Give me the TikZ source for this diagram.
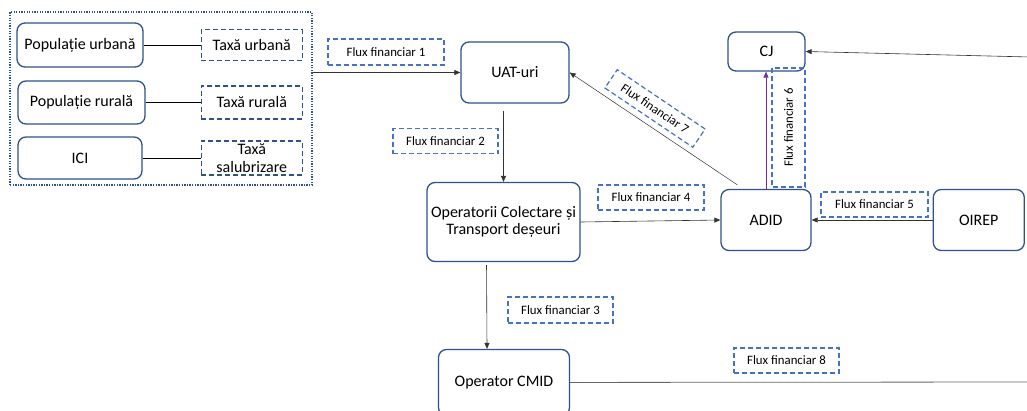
\documentclass[tikz,border=0pt]{standalone}
\usepackage{fontspec}
\setmainfont{Carlito}
\usetikzlibrary{arrows.meta, positioning}
\definecolor{boxblue}{RGB}{47,82,143}
\definecolor{fluxblue}{RGB}{68,114,196}
\definecolor{flowpurple}{RGB}{112,48,160}

\begin{document}
\begin{tikzpicture}[x=1pt, y=-1pt, >={Triangle[length=6pt, width=5pt]}]

% Define styles for the nodes
\tikzstyle{actor} = [rectangle, rounded corners=8pt, draw=boxblue, line width=1.3pt, fill=white, font=\fontsize{16}{17}\selectfont, align=center, inner sep=1pt]
\tikzstyle{tax} = [rectangle, draw=boxblue, dash pattern=on 5pt off 3pt, line width=1.3pt, minimum width=101pt, font=\fontsize{16}{18}\selectfont, align=center, inner sep=1pt]
\tikzstyle{flux} = [rectangle, draw=fluxblue, dash pattern=on 5pt off 3pt, line width=1.2pt, minimum width=105pt, minimum height=25pt, font=\fontsize{12.8}{14}\selectfont, inner sep=1pt]
\tikzstyle{flow} = [->, color=black!80, line width=0.6pt]

\useasboundingbox (0,0) rectangle (1027,410);

% Payers and taxes
\node (group) [draw=boxblue, dash pattern=on 1.3pt off 1.3pt, line width=1.3pt, minimum width=302pt, minimum height=173pt, inner sep=0pt] at (161,98.5) {};
\node (popurb) [actor, minimum width=126pt, minimum height=44pt] at (80,45) {Populație urbană};
\node (taxurb) [tax, minimum height=31pt, right=57pt of popurb] {Taxă urbană};
\node (poprur) [actor, minimum width=127pt, minimum height=43pt] at (81.5,102.5) {Populație rurală};
\node (taxrur) [tax, minimum height=33pt, right=55pt of poprur] {Taxă rurală};
\node (ici) [actor, minimum width=124pt, minimum height=42pt] at (80,158) {ICI};
\node (taxsal) [tax, minimum height=34pt, right=58pt of ici] {Taxă\\salubrizare};

% Actors
\node (uat) [actor, minimum width=108pt, minimum height=61pt] at (515,72.5) {UAT-uri};
\node (oper) [actor, minimum width=153pt, minimum height=79pt] at (503.5,222) {Operatorii Colectare și\\Transport deșeuri};
\node (cmid) [actor, minimum width=131pt, minimum height=66pt] at (504,382.5) {Operator CMID};
\node (adid) [actor, minimum width=90pt, minimum height=61pt] at (766,220) {ADID};
\node (oirep) [actor, minimum width=91pt, minimum height=61pt, right=121pt of adid] {OIREP};
\node (cj) [actor, minimum width=77pt, minimum height=39pt] at (766.5,51.5) {CJ};

% Flow labels
\node (f1) [flux, minimum width=116pt, minimum height=26pt] at (386,52) {Flux financiar 1};
\node (f2) [flux] at (445.5,141) {Flux financiar 2};
\node (f3) [flux, minimum height=26pt] at (560.5,310) {Flux financiar 3};
\node (f4) [flux, minimum width=106pt] at (651,197.5) {Flux financiar 4};
\node (f5) [flux, minimum width=107pt] at (874.5,204.5) {Flux financiar 5};
\node (f6) [flux, rotate=90, minimum width=119pt, minimum height=33pt] at (788.5,127.5) {Flux financiar 6};
\node (f7) [flux, rotate=-34, minimum width=106pt, minimum height=22pt] at (655,108.5) {Flux financiar 7};
\node (f8) [flux] at (786.5,360.5) {Flux financiar 8};

\coordinate (cjin) at (1030,57);
\coordinate (cmidout) at (1030,382);

% Lines
\draw[line width=1pt] (popurb) -- (taxurb);
\draw[line width=1pt] (poprur) -- (taxrur);
\draw[line width=1pt] (ici) -- (taxsal);

% Arrows
\draw[flow] (group.east |- uat) -- (uat);
\draw[flow, shorten <=7pt] (uat.south -| oper.north) -- (oper.north);
\draw[flow, shorten <=3pt] ([xshift=-17pt]oper.south) -- ([xshift=-17pt]cmid.north);
\draw[flow] (oper.east) -- (adid.west);
\draw[flow] (oirep) -- (adid);
\draw[flow, color=flowpurple] (adid.north) -- (adid.north |- cj.south);
\draw[flow] (cjin) -- (cj.east);
\draw[flow, line width=0.5pt] ([xshift=17pt, yshift=4pt]adid.north west) -- (uat.east);
\draw[color=black!60, line width=0.8pt] (cmid) -- (cmidout);

\end{tikzpicture}
\end{document}
